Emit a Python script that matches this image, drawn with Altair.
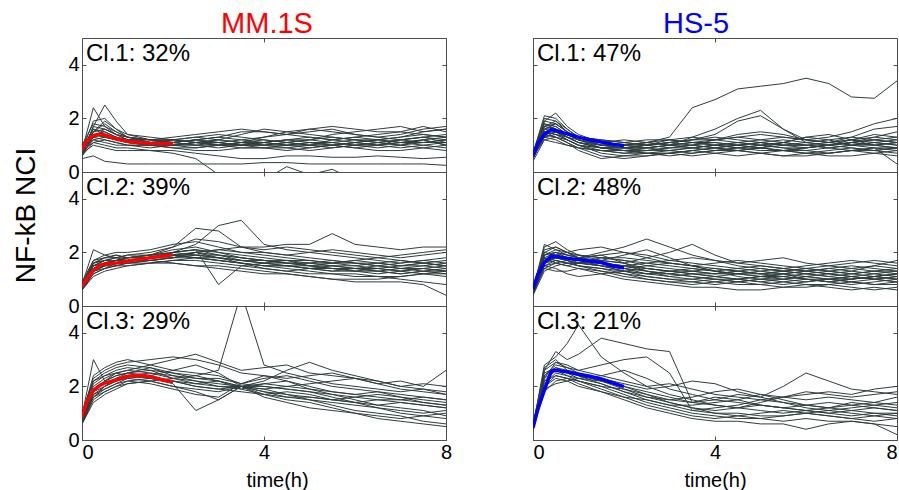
import altair as alt
import pandas as pd

FONT = "Liberation Sans"
FRAME = "#4d4d4d"
TRACE = "#2f3d3d"

# time grid of the single-cell traces (h)
T = [0, 0.25, 0.5, 0.75, 1, 1.5, 2, 2.5, 3, 3.5, 4, 4.5, 5, 5.5, 6, 6.5, 7, 7.5, 8]
# time grid of the cluster mean curves (h)
MEAN_T = [0, 0.1, 0.25, 0.4, 0.5, 0.75, 1, 1.25, 1.5, 1.75, 2]

column_names = ["MM.1S", "HS-5"]
column_colors = ["#ff0000", "#0000ff"]
panel_labels = [["Cl.1: 32%", "Cl.2: 39%", "Cl.3: 29%"],
                ["Cl.1: 47%", "Cl.2: 48%", "Cl.3: 21%"]]

# ---------------- MM.1S cluster 1 ----------------
mm_cl1_traces = [
    [0.8, 2.4, 1.7, 1.4, 1.3, 1.2, 1.1, 1.2, 1.3, 1.2, 1.1, 1.2, 1.3, 1.2, 1.1, 1.2, 1.3, 1.4, 1.3],
    [0.7, 1.7, 2.5, 1.9, 1.4, 1.2, 1.3, 1.4, 1.5, 1.6, 1.5, 1.4, 1.6, 1.7, 1.6, 1.5, 1.5, 1.7, 1.5],
    [0.9, 1.5, 1.9, 1.6, 1.3, 1.1, 1.0, 1.0, 0.9, 1.0, 1.1, 1.0, 0.9, 1.0, 1.1, 1.0, 0.9, 1.0, 1.1],
    [0.6, 1.3, 1.6, 1.4, 1.2, 1.1, 1.2, 1.1, 1.0, 0.9, 0.9, 1.0, 1.1, 1.0, 0.9, 1.0, 1.1, 1.2, 1.0],
    [0.8, 1.4, 1.5, 1.3, 1.2, 1.2, 1.1, 1.0, 1.1, 1.2, 1.3, 1.4, 1.3, 1.2, 1.3, 1.4, 1.5, 1.4, 1.3],
    [1.0, 1.8, 1.7, 1.5, 1.3, 1.2, 1.2, 1.3, 1.4, 1.3, 1.2, 1.1, 1.2, 1.4, 1.5, 1.6, 1.7, 1.5, 1.6],
    [0.7, 1.2, 1.3, 1.2, 1.1, 1.0, 0.9, 0.9, 1.0, 1.1, 1.0, 0.9, 0.8, 0.9, 1.0, 1.1, 1.0, 0.9, 0.8],
    [0.9, 1.6, 1.4, 1.2, 1.1, 1.1, 1.2, 1.3, 1.2, 1.1, 1.3, 1.5, 1.6, 1.5, 1.4, 1.3, 1.2, 1.3, 1.4],
    [0.6, 1.1, 1.2, 1.1, 1.0, 1.0, 0.9, 0.8, 0.8, 0.9, 0.9, 0.8, 0.9, 1.0, 0.9, 0.8, 0.8, 0.9, 1.0],
    [0.8, 1.9, 2.0, 1.6, 1.4, 1.3, 1.2, 1.1, 1.2, 1.4, 1.6, 1.5, 1.4, 1.3, 1.2, 1.2, 1.3, 1.5, 1.6],
    [0.7, 1.0, 0.9, 0.8, 0.8, 0.8, 0.7, 0.5, -0.1, -0.3, -0.3, 0.2, -0.1, 0.1, -0.3, -0.3, -0.3, -0.3, -0.3],
    [0.5, 0.6, 0.4, 0.35, 0.3, 0.3, 0.3, 0.3, 0.3, 0.3, 0.35, 0.35, 0.3, 0.3, 0.3, 0.3, 0.3, 0.3, 0.25],
    [0.8, 1.1, 1.0, 0.9, 0.9, 0.8, 0.8, 0.7, 0.6, 0.5, 0.5, 0.6, 0.6, 0.55, 0.55, 0.6, 0.55, 0.5, 0.55],
    [0.9, 1.3, 1.2, 1.1, 1.0, 1.0, 1.0, 1.1, 1.0, 1.0, 1.1, 1.2, 1.1, 1.0, 1.1, 1.2, 1.1, 1.1, 1.2],
    [0.7, 1.5, 1.8, 1.5, 1.3, 1.2, 1.1, 1.2, 1.3, 1.5, 1.5, 1.4, 1.5, 1.6, 1.4, 1.3, 1.4, 1.6, 1.7],
    [0.9, 1.2, 1.1, 1.0, 1.0, 0.9, 1.0, 1.1, 1.1, 1.0, 0.9, 0.9, 1.0, 1.2, 1.3, 1.2, 1.1, 1.0, 0.9],
    [0.6, 1.4, 1.3, 1.2, 1.2, 1.1, 1.1, 1.0, 1.0, 1.1, 1.2, 1.1, 1.0, 1.0, 1.1, 1.0, 1.2, 1.3, 1.1],
    [0.8, 1.6, 1.5, 1.3, 1.1, 1.0, 1.1, 1.2, 1.1, 1.0, 1.0, 1.1, 1.2, 1.1, 1.0, 0.9, 1.0, 1.2, 1.3],
    [0.7, 1.5, 1.6, 1.4, 1.2, 1.1, 1.0, 1.1, 1.2, 1.1, 1.0, 1.0, 1.1, 1.1, 1.2, 1.1, 1.0, 1.1, 1.2],
    [0.8, 1.3, 1.4, 1.3, 1.2, 1.2, 1.2, 1.1, 1.0, 1.0, 1.1, 1.2, 1.2, 1.3, 1.2, 1.1, 1.2, 1.3, 1.2],
    [0.6, 1.7, 1.6, 1.4, 1.3, 1.1, 1.1, 1.2, 1.1, 1.0, 1.0, 1.1, 1.0, 0.9, 1.0, 1.1, 1.2, 1.1, 1.1],
    [0.9, 1.4, 1.3, 1.2, 1.1, 1.0, 1.0, 0.9, 1.0, 1.1, 1.1, 1.0, 1.0, 1.1, 1.0, 1.0, 1.1, 1.2, 1.0],
]
mm_cl1_mean = [0.83, 1.15, 1.36, 1.42, 1.38, 1.24, 1.15, 1.10, 1.07, 1.06, 1.06]

# ---------------- MM.1S cluster 2 ----------------
mm_cl2_traces = [
    [0.7, 1.6, 1.8, 1.9, 1.8, 1.9, 2.2, 2.9, 2.8, 2.2, 2.0, 1.9, 1.8, 1.7, 1.6, 1.6, 1.5, 1.6, 1.5],
    [0.6, 1.3, 1.5, 1.6, 1.7, 1.8, 2.0, 2.3, 3.0, 3.2, 2.3, 2.1, 2.0, 1.9, 1.8, 1.7, 1.6, 1.7, 1.8],
    [0.8, 2.1, 1.9, 1.8, 1.7, 1.8, 2.0, 2.1, 0.8, 1.5, 1.6, 1.7, 1.5, 1.4, 1.3, 1.2, 1.3, 1.4, 1.3],
    [0.7, 1.4, 1.6, 1.7, 1.8, 1.9, 2.0, 1.9, 1.8, 1.7, 1.6, 1.5, 1.4, 1.3, 1.4, 1.5, 1.4, 1.3, 1.4],
    [0.6, 1.2, 1.4, 1.5, 1.6, 1.7, 1.8, 2.0, 2.1, 2.2, 2.2, 2.3, 2.3, 2.7, 2.3, 2.2, 2.1, 2.2, 2.2],
    [0.8, 1.5, 1.7, 1.6, 1.7, 1.8, 1.9, 1.8, 1.7, 1.6, 1.5, 1.4, 1.3, 1.2, 1.1, 1.1, 1.0, 0.9, 0.8],
    [0.7, 1.3, 1.5, 1.6, 1.6, 1.7, 1.6, 1.5, 1.5, 1.4, 1.3, 1.2, 1.1, 1.0, 0.9, 0.9, 0.9, 0.8, 0.4],
    [0.9, 1.7, 1.9, 2.0, 2.0, 2.1, 2.3, 2.4, 2.2, 2.0, 1.9, 1.8, 1.7, 1.6, 1.7, 1.8, 1.7, 1.6, 1.7],
    [0.6, 1.1, 1.3, 1.4, 1.5, 1.6, 1.7, 1.8, 1.7, 1.6, 1.5, 1.5, 1.4, 1.4, 1.3, 1.3, 1.2, 1.3, 1.2],
    [0.7, 1.5, 1.6, 1.7, 1.8, 1.9, 2.1, 2.2, 2.0, 1.8, 1.7, 1.6, 1.6, 1.5, 1.5, 1.4, 1.5, 1.6, 1.5],
    [0.8, 1.6, 1.8, 1.8, 1.9, 2.0, 2.2, 2.5, 2.4, 2.2, 2.1, 2.2, 2.1, 2.0, 1.9, 1.8, 1.9, 2.0, 2.1],
    [0.6, 1.4, 1.5, 1.5, 1.6, 1.6, 1.7, 1.7, 1.6, 1.5, 1.4, 1.3, 1.2, 1.2, 1.2, 1.1, 1.1, 1.2, 1.1],
    [0.7, 1.6, 1.7, 1.8, 1.8, 1.9, 1.9, 1.8, 1.8, 1.7, 1.7, 1.6, 1.5, 1.5, 1.4, 1.4, 1.3, 1.4, 1.5],
    [0.8, 1.5, 1.6, 1.7, 1.7, 1.8, 2.0, 2.1, 1.9, 1.7, 1.6, 1.6, 1.5, 1.6, 1.6, 1.5, 1.6, 1.7, 1.6],
    [0.6, 1.3, 1.4, 1.6, 1.7, 1.8, 1.8, 1.9, 1.9, 1.8, 1.7, 1.7, 1.6, 1.6, 1.7, 1.6, 1.5, 1.5, 1.4],
    [0.7, 1.4, 1.6, 1.6, 1.7, 1.7, 1.8, 2.0, 2.1, 2.0, 2.0, 1.9, 2.0, 2.1, 2.0, 1.9, 1.8, 1.9, 2.0],
    [0.8, 1.7, 1.8, 1.9, 1.8, 1.8, 1.9, 2.0, 1.8, 1.6, 1.4, 1.3, 1.4, 1.5, 1.4, 1.3, 1.2, 1.3, 1.3],
    [0.6, 1.2, 1.4, 1.5, 1.5, 1.6, 1.6, 1.5, 1.4, 1.3, 1.2, 1.2, 1.1, 1.0, 1.0, 1.0, 1.1, 1.2, 1.2],
    [0.7, 1.5, 1.7, 1.7, 1.8, 1.8, 1.9, 1.9, 1.8, 1.7, 1.6, 1.5, 1.5, 1.4, 1.4, 1.3, 1.4, 1.4, 1.3],
    [0.6, 1.4, 1.6, 1.7, 1.7, 1.8, 1.9, 2.0, 1.9, 1.8, 1.7, 1.6, 1.6, 1.7, 1.6, 1.5, 1.4, 1.5, 1.6],
    [0.8, 1.6, 1.7, 1.8, 1.9, 1.9, 2.0, 2.1, 2.0, 1.9, 1.8, 1.7, 1.7, 1.6, 1.5, 1.6, 1.7, 1.6, 1.5],
    [0.7, 1.3, 1.5, 1.6, 1.6, 1.7, 1.8, 1.8, 1.7, 1.6, 1.5, 1.5, 1.4, 1.3, 1.3, 1.4, 1.3, 1.2, 1.3],
]
mm_cl2_mean = [0.73, 1.00, 1.33, 1.53, 1.57, 1.60, 1.67, 1.74, 1.80, 1.86, 1.91]

# ---------------- MM.1S cluster 3 ----------------
mm_cl3_traces = [
    [0.9, 3.0, 2.2, 2.4, 2.5, 2.6, 2.5, 2.4, 2.6, 5.5, 2.8, 2.5, 2.3, 2.1, 2.0, 1.9, 1.8, 1.9, 1.7],
    [0.7, 1.8, 2.2, 2.5, 2.6, 2.8, 3.0, 3.2, 2.9, 2.6, 2.7, 2.8, 2.5, 2.4, 2.3, 2.1, 2.2, 2.0, 2.6],
    [0.8, 1.6, 2.0, 2.2, 2.4, 2.5, 2.3, 2.1, 2.0, 2.0, 2.1, 2.2, 2.0, 1.8, 1.7, 1.6, 1.5, 1.4, 1.3],
    [0.6, 1.5, 1.8, 2.0, 2.2, 2.3, 2.2, 2.0, 1.9, 2.0, 1.8, 1.6, 1.5, 1.4, 1.3, 1.2, 1.1, 1.0, 1.1],
    [1.0, 2.2, 2.5, 2.7, 2.8, 2.7, 2.5, 2.3, 2.2, 2.0, 2.2, 2.6, 2.9, 2.6, 2.4, 2.2, 2.0, 2.1, 2.0],
    [0.7, 1.9, 2.1, 2.3, 2.4, 2.3, 2.1, 1.1, 1.5, 2.0, 1.9, 1.7, 1.6, 1.5, 1.6, 1.7, 1.6, 1.5, 1.4],
    [0.8, 2.0, 2.3, 2.5, 2.6, 2.5, 2.4, 2.3, 2.3, 2.1, 2.0, 1.9, 1.8, 1.6, 1.4, 1.2, 1.0, 0.9, 0.8],
    [0.6, 1.7, 1.9, 2.1, 2.3, 2.4, 2.6, 2.8, 2.5, 2.0, 1.7, 1.5, 1.4, 1.2, 1.0, 0.8, 0.7, 0.6, 0.5],
    [0.9, 2.4, 2.7, 2.9, 3.0, 2.8, 2.6, 2.5, 2.4, 2.1, 2.3, 2.4, 2.2, 2.0, 1.9, 1.8, 1.7, 1.6, 1.5],
    [0.7, 1.6, 1.8, 2.0, 2.1, 2.2, 2.0, 1.8, 1.5, 2.0, 1.6, 1.4, 1.2, 1.1, 1.0, 0.9, 0.8, 0.9, 1.0],
    [0.8, 2.1, 2.4, 2.6, 2.7, 2.6, 2.3, 2.2, 2.1, 2.0, 1.9, 2.0, 2.1, 2.2, 2.3, 2.1, 1.9, 1.8, 1.7],
    [0.6, 1.4, 1.7, 1.9, 2.1, 2.2, 2.3, 2.4, 2.2, 1.9, 1.7, 1.8, 1.7, 1.5, 1.4, 1.5, 1.4, 1.3, 1.2],
    [1.0, 2.3, 2.6, 2.8, 2.9, 3.0, 3.1, 3.0, 2.8, 2.5, 2.4, 2.3, 2.4, 2.5, 2.3, 2.2, 2.0, 1.9, 1.8],
    [0.7, 1.8, 2.0, 2.2, 2.3, 2.2, 2.0, 1.9, 1.8, 2.0, 1.8, 1.7, 1.5, 1.3, 1.1, 1.0, 0.9, 0.7, 0.6],
    [0.8, 1.9, 2.2, 2.4, 2.5, 2.4, 2.2, 2.1, 2.2, 2.0, 2.0, 1.9, 1.8, 1.7, 1.6, 1.5, 1.5, 1.6, 1.5],
    [0.6, 1.6, 1.9, 2.1, 2.2, 2.1, 1.9, 1.7, 1.6, 2.1, 2.4, 2.2, 1.9, 1.7, 1.5, 1.3, 1.2, 1.1, 0.9],
    [0.9, 2.2, 2.4, 2.5, 2.4, 2.3, 2.2, 2.0, 1.9, 1.8, 1.7, 1.6, 1.6, 1.5, 1.4, 1.3, 1.4, 1.3, 1.2],
    [0.7, 1.7, 2.0, 2.3, 2.5, 2.7, 2.4, 2.2, 2.0, 1.9, 2.1, 2.0, 1.9, 1.8, 1.7, 1.8, 1.6, 1.4, 1.3],
]
mm_cl3_mean = [0.85, 1.40, 1.85, 2.05, 2.12, 2.24, 2.38, 2.42, 2.37, 2.25, 2.17]

# ---------------- HS-5 cluster 1 ----------------
hs_cl1_traces = [
    [0.6, 1.9, 2.2, 1.7, 1.4, 1.1, 1.0, 1.1, 1.3, 2.4, 2.7, 3.1, 3.2, 3.3, 3.5, 3.3, 2.8, 2.75, 3.4],
    [0.5, 1.6, 1.8, 1.5, 1.3, 1.1, 1.0, 0.9, 1.0, 1.3, 1.6, 2.0, 2.3, 1.6, 1.1, 1.0, 1.1, 1.2, 1.1],
    [0.7, 1.8, 1.7, 1.4, 1.2, 1.0, 0.9, 1.0, 1.1, 1.2, 1.4, 1.9, 2.1, 1.6, 1.2, 1.3, 1.5, 1.8, 2.0],
    [0.6, 1.5, 1.6, 1.3, 1.1, 0.9, 0.8, 0.8, 0.9, 0.9, 0.8, 0.9, 1.0, 0.9, 0.8, 0.9, 1.0, 0.9, 0.8],
    [0.5, 1.4, 1.5, 1.2, 1.0, 0.8, 0.7, 0.7, 0.8, 0.9, 1.0, 0.9, 0.8, 0.8, 0.9, 1.0, 1.1, 1.0, 0.9],
    [0.6, 1.7, 1.9, 1.6, 1.3, 1.0, 1.1, 1.2, 1.2, 1.1, 1.0, 1.1, 1.2, 1.3, 1.2, 1.1, 1.2, 1.4, 1.3],
    [0.4, 1.2, 1.3, 1.1, 0.9, 0.6, 0.5, 0.6, 0.7, 0.8, 0.7, 0.6, 0.7, 0.8, 0.7, 0.6, 0.6, 0.7, 0.8],
    [0.7, 2.1, 2.0, 1.6, 1.3, 1.2, 1.1, 1.0, 0.9, 1.0, 1.2, 1.3, 1.2, 1.1, 1.0, 1.0, 1.1, 1.3, 1.5],
    [0.6, 1.3, 1.4, 1.2, 1.0, 0.9, 0.9, 0.9, 0.8, 0.7, 0.8, 0.9, 0.9, 1.0, 1.0, 0.9, 0.8, 0.8, 0.9],
    [0.5, 1.5, 1.6, 1.4, 1.2, 0.9, 0.8, 0.9, 1.0, 1.0, 0.9, 0.8, 0.9, 1.1, 1.3, 1.2, 1.0, 1.1, 1.2],
    [0.6, 1.6, 1.5, 1.3, 1.1, 1.0, 1.0, 1.1, 1.0, 0.9, 1.0, 1.1, 1.0, 0.9, 0.9, 1.0, 1.2, 1.1, 1.0],
    [0.7, 1.4, 1.3, 1.1, 0.8, 0.5, 0.6, 0.7, 0.7, 0.6, 0.7, 0.8, 0.7, 0.6, 0.7, 0.8, 0.9, 0.8, 0.7],
    [0.5, 1.8, 1.6, 1.3, 1.2, 1.1, 1.2, 1.1, 1.0, 1.1, 1.1, 1.0, 1.1, 1.2, 1.1, 1.0, 1.1, 1.2, 1.1],
    [0.6, 1.2, 1.1, 1.0, 0.9, 0.8, 0.7, 0.8, 0.9, 1.0, 1.1, 1.0, 0.9, 0.8, 0.8, 0.7, 0.8, 0.9, 0.3],
    [0.5, 1.7, 1.6, 1.4, 1.3, 1.2, 1.1, 1.0, 1.1, 1.2, 1.3, 1.2, 1.1, 1.0, 1.1, 1.2, 1.3, 1.2, 1.3],
    [0.6, 1.3, 1.2, 1.0, 0.9, 0.8, 0.8, 0.7, 0.6, 0.7, 0.8, 0.8, 0.9, 0.8, 0.7, 0.7, 0.8, 0.9, 0.9],
    [0.7, 1.9, 1.8, 1.5, 1.2, 1.0, 0.9, 1.0, 1.1, 1.2, 1.2, 1.3, 1.4, 1.3, 1.2, 1.1, 1.3, 1.6, 1.7],
    [0.5, 1.5, 1.4, 1.3, 1.1, 0.9, 0.9, 0.8, 0.8, 0.9, 1.0, 1.0, 1.1, 1.0, 1.0, 1.1, 1.0, 1.0, 1.1],
    [0.6, 1.6, 1.7, 1.4, 1.2, 1.0, 0.9, 0.9, 1.0, 1.1, 1.0, 0.9, 1.0, 1.1, 1.0, 0.9, 1.0, 1.1, 1.0],
    [0.5, 1.3, 1.5, 1.3, 1.1, 0.9, 0.8, 0.7, 0.7, 0.8, 0.9, 1.0, 0.9, 0.8, 0.9, 1.0, 0.9, 0.8, 0.9],
    [0.7, 2.0, 1.9, 1.5, 1.3, 1.1, 1.0, 1.1, 1.2, 1.1, 1.2, 1.4, 1.5, 1.4, 1.2, 1.1, 1.2, 1.3, 1.2],
    [0.6, 1.4, 1.3, 1.2, 1.0, 0.7, 0.6, 0.6, 0.7, 0.8, 0.9, 0.8, 0.7, 0.6, 0.6, 0.7, 0.8, 0.7, 0.6],
    [0.5, 1.7, 1.8, 1.5, 1.2, 1.0, 1.0, 1.0, 1.1, 1.0, 0.9, 1.0, 1.1, 1.0, 0.9, 1.0, 1.1, 1.0, 1.1],
    [0.6, 1.5, 1.4, 1.2, 1.0, 0.9, 0.9, 1.0, 1.2, 1.3, 1.2, 1.1, 1.0, 1.1, 1.3, 1.4, 1.2, 1.0, 0.9],
]
hs_cl1_mean = [0.60, 1.05, 1.40, 1.58, 1.55, 1.42, 1.30, 1.20, 1.12, 1.04, 0.98]

# ---------------- HS-5 cluster 2 ----------------
hs_cl2_traces = [
    [0.6, 2.2, 2.4, 2.1, 1.9, 1.8, 1.7, 1.6, 1.5, 1.4, 1.3, 1.2, 1.2, 1.3, 1.2, 1.1, 1.2, 1.3, 1.2],
    [0.5, 1.8, 2.0, 1.9, 1.8, 2.0, 2.2, 2.5, 2.2, 1.9, 1.7, 1.6, 1.5, 1.4, 1.3, 1.4, 1.5, 1.4, 1.3],
    [0.7, 1.6, 1.8, 1.7, 1.6, 1.5, 1.4, 1.3, 1.2, 1.1, 1.0, 1.0, 0.9, 1.0, 1.1, 1.0, 0.9, 1.0, 1.1],
    [0.6, 1.5, 1.4, 1.2, 1.1, 1.2, 1.3, 1.4, 1.3, 1.2, 1.1, 1.0, 1.1, 1.2, 1.1, 1.0, 1.0, 1.1, 1.0],
    [0.4, 1.9, 2.1, 2.0, 1.9, 1.7, 1.6, 1.8, 2.0, 2.3, 1.9, 1.6, 1.7, 1.8, 1.6, 1.5, 1.6, 1.7, 1.6],
    [0.7, 2.0, 1.9, 1.8, 1.7, 1.6, 1.5, 1.4, 1.3, 1.3, 1.2, 1.2, 1.1, 1.1, 1.0, 1.0, 1.1, 1.2, 1.1],
    [0.5, 1.4, 1.6, 1.7, 1.8, 1.9, 1.6, 1.3, 1.1, 1.0, 0.9, 0.8, 0.8, 0.7, 0.7, 0.8, 0.7, 0.6, 0.7],
    [0.6, 2.3, 2.1, 1.9, 1.8, 1.9, 2.0, 1.9, 1.7, 1.6, 1.5, 1.4, 1.3, 1.4, 1.5, 1.6, 1.7, 1.6, 1.5],
    [0.8, 1.7, 1.8, 1.7, 1.5, 1.3, 1.1, 1.0, 0.9, 0.9, 0.8, 0.9, 1.0, 0.9, 0.8, 0.8, 0.9, 0.8, 0.9],
    [0.5, 1.6, 1.9, 2.0, 2.1, 2.2, 2.0, 1.8, 1.6, 1.5, 1.6, 1.7, 1.6, 1.5, 1.4, 1.3, 1.4, 1.5, 1.4],
    [0.6, 1.8, 1.7, 1.6, 1.5, 1.4, 1.3, 1.2, 1.2, 1.3, 1.4, 1.3, 1.2, 1.1, 1.2, 1.3, 1.2, 1.1, 1.2],
    [0.7, 1.5, 1.6, 1.5, 1.4, 1.2, 1.0, 0.9, 0.8, 0.7, 0.7, 0.6, 0.6, 0.7, 0.8, 0.7, 0.6, 0.7, 0.6],
    [0.5, 2.0, 2.2, 2.0, 1.8, 1.6, 1.5, 1.6, 1.7, 1.8, 1.7, 1.5, 1.4, 1.3, 1.4, 1.5, 1.4, 1.3, 1.4],
    [0.6, 1.7, 1.8, 1.8, 1.7, 1.6, 1.4, 1.2, 1.1, 1.2, 1.1, 1.0, 1.1, 1.2, 1.3, 1.2, 1.1, 1.0, 0.9],
    [0.4, 1.3, 1.5, 1.6, 1.6, 1.5, 1.3, 1.1, 1.0, 1.0, 1.1, 1.2, 1.3, 1.2, 1.0, 0.9, 1.0, 1.1, 1.2],
    [0.7, 1.9, 2.0, 1.9, 1.9, 1.8, 1.8, 1.7, 1.6, 1.5, 1.4, 1.3, 1.2, 1.2, 1.3, 1.4, 1.3, 1.2, 1.3],
    [0.6, 1.6, 1.7, 1.6, 1.6, 1.7, 1.9, 2.1, 1.8, 1.5, 1.3, 1.4, 1.5, 1.4, 1.3, 1.2, 1.3, 1.5, 1.7],
    [0.5, 1.4, 1.3, 1.3, 1.4, 1.3, 1.2, 1.1, 1.0, 0.9, 1.0, 0.9, 0.8, 0.9, 1.0, 0.9, 0.8, 0.9, 1.0],
    [0.6, 1.9, 2.0, 1.8, 1.6, 1.5, 1.4, 1.5, 1.6, 1.5, 1.3, 1.2, 1.1, 1.0, 1.1, 1.2, 1.1, 1.0, 1.1],
    [0.5, 1.7, 1.9, 1.8, 1.7, 1.5, 1.3, 1.2, 1.3, 1.4, 1.3, 1.1, 1.0, 1.0, 0.9, 1.0, 1.1, 1.0, 0.9],
    [0.7, 2.1, 2.2, 2.0, 1.8, 1.7, 1.6, 1.4, 1.3, 1.2, 1.2, 1.3, 1.4, 1.3, 1.2, 1.1, 1.0, 1.1, 1.2],
    [0.4, 1.5, 1.7, 1.6, 1.5, 1.4, 1.2, 1.0, 0.9, 0.8, 0.9, 1.0, 0.9, 0.8, 0.9, 1.0, 0.9, 0.8, 0.8],
    [0.6, 1.8, 1.6, 1.5, 1.6, 1.8, 1.7, 1.5, 1.4, 1.3, 1.2, 1.3, 1.2, 1.3, 1.4, 1.3, 1.2, 1.3, 1.3],
    [0.5, 1.6, 1.8, 1.7, 1.6, 1.6, 1.5, 1.3, 1.2, 1.1, 1.0, 0.9, 1.0, 1.1, 1.0, 0.9, 1.0, 1.1, 1.0],
]
hs_cl2_mean = [0.63, 1.15, 1.62, 1.86, 1.85, 1.78, 1.73, 1.68, 1.62, 1.50, 1.42]

# ---------------- HS-5 cluster 3 ----------------
hs_cl3_traces = [
    [0.5, 2.8, 3.1, 3.6, 4.3, 3.1, 2.5, 2.0, 1.7, 1.5, 1.3, 1.2, 1.1, 1.0, 1.1, 1.0, 0.9, 1.0, 0.9],
    [0.4, 2.6, 3.3, 3.0, 3.2, 3.8, 3.6, 3.4, 3.3, 1.4, 1.6, 1.5, 1.3, 1.2, 1.3, 1.4, 1.3, 1.2, 1.1],
    [0.6, 2.4, 2.8, 2.7, 2.6, 2.8, 3.0, 3.1, 2.5, 1.1, 1.2, 1.3, 1.5, 1.4, 1.2, 1.1, 1.2, 1.3, 1.4],
    [0.5, 2.2, 2.6, 2.5, 2.4, 2.2, 2.0, 1.8, 1.6, 1.4, 1.3, 1.2, 1.4, 1.6, 1.8, 1.7, 1.6, 1.7, 1.8],
    [0.4, 2.0, 2.4, 2.3, 2.2, 2.0, 1.7, 1.4, 1.2, 1.0, 0.9, 0.8, 0.8, 0.7, 0.8, 0.7, 0.7, 0.6, 0.5],
    [0.5, 2.5, 2.7, 2.6, 2.5, 2.3, 2.1, 1.9, 2.0, 2.2, 2.1, 1.8, 1.6, 2.0, 2.5, 2.2, 1.9, 1.8, 1.7],
    [0.6, 1.9, 2.1, 2.2, 2.3, 2.1, 1.8, 1.5, 1.3, 1.1, 1.0, 1.0, 0.9, 0.9, 1.0, 1.1, 1.0, 0.9, 0.8],
    [0.4, 2.3, 2.9, 2.7, 2.5, 2.2, 1.9, 1.7, 1.5, 1.4, 1.5, 1.7, 1.6, 1.4, 1.3, 1.2, 1.3, 1.4, 1.3],
    [0.5, 2.1, 2.5, 2.4, 2.2, 1.9, 1.6, 1.3, 1.1, 0.9, 0.8, 0.9, 1.0, 1.1, 1.0, 0.9, 0.8, 0.9, 1.0],
    [0.6, 2.6, 2.9, 2.8, 2.6, 2.4, 2.2, 2.0, 2.1, 1.9, 1.7, 1.6, 1.5, 1.6, 1.7, 1.8, 1.7, 1.9, 2.0],
    [0.4, 1.8, 2.2, 2.3, 2.1, 1.8, 1.5, 1.2, 1.0, 0.8, 0.7, 0.7, 0.6, 0.6, 0.4, 0.6, 0.7, 0.6, 0.2],
    [0.5, 2.4, 2.7, 2.5, 2.3, 2.4, 2.6, 2.3, 1.9, 1.7, 1.5, 1.4, 1.3, 1.2, 1.1, 1.2, 1.4, 1.3, 1.2],
    [0.6, 2.2, 2.4, 2.3, 2.2, 2.0, 1.9, 1.6, 1.4, 1.2, 1.1, 1.2, 1.3, 1.2, 1.1, 1.0, 1.1, 1.2, 1.1],
    [0.5, 2.0, 2.3, 2.2, 2.0, 1.8, 1.6, 1.5, 1.3, 1.3, 1.4, 1.5, 1.7, 1.5, 1.3, 1.2, 1.1, 1.0, 1.0],
    [0.4, 2.7, 3.0, 2.6, 2.4, 2.1, 1.8, 1.6, 1.5, 1.6, 1.8, 1.9, 1.7, 1.6, 1.5, 1.6, 1.5, 1.4, 1.6],
    [0.6, 2.3, 2.6, 2.4, 2.3, 2.2, 2.0, 1.7, 1.4, 1.2, 1.0, 0.9, 0.8, 0.9, 1.0, 0.9, 0.8, 0.7, 0.8],
]
hs_cl3_mean = [0.45, 1.12, 1.86, 2.56, 2.60, 2.55, 2.45, 2.38, 2.28, 2.13, 1.99]

all_traces = [[mm_cl1_traces, mm_cl2_traces, mm_cl3_traces],
              [hs_cl1_traces, hs_cl2_traces, hs_cl3_traces]]
all_means = [[mm_cl1_mean, mm_cl2_mean, mm_cl3_mean],
             [hs_cl1_mean, hs_cl2_mean, hs_cl3_mean]]

PW, PH = 364, 134
XS = alt.Scale(domain=[0, 8], nice=False)
YS = alt.Scale(domain=[0, 5], nice=False)


def panel(col, row):
    traces = all_traces[col][row]
    recs = []
    for i, tr in enumerate(traces):
        for t, v in zip(T, tr):
            recs.append({"t": t, "v": v, "id": i})
    df = pd.DataFrame(recs)
    mdf = pd.DataFrame({"t": MEAN_T, "v": all_means[col][row]})
    bottom = row == 2
    left = col == 0

    xb_kw = dict(orient="bottom", values=[0, 4, 8], offset=-4, tickSize=4,
                 domain=False, grid=False, labels=bottom, tickColor=FRAME,
                 labelFontSize=20, labelPadding=2, labelColor="black", labelFont=FONT)
    if bottom:
        xb_kw.update(titleFontSize=20, titleFont=FONT,
                     titleFontWeight="normal", titleColor="black",
                     titleBaseline="alphabetic", titleY=50,
                     titleX=195 if left else 182)
        if left:
            xb_kw["labelAlign"] = {"condition": {"test": "datum.value == 0", "value": "left"},
                                   "value": "center"}
        else:
            xb_kw["labelFlush"] = True
    x_bottom = alt.Axis(**xb_kw)

    yl_kw = dict(orient="left", values=[0, 2, 4], offset=-4, tickSize=4,
                 domain=False, grid=False, labels=left, tickColor=FRAME,
                 labelFontSize=20, labelPadding=3, labelColor="black", labelFont=FONT)
    if left and row == 1:
        yl_kw.update(titleFontSize=28, titleFont=FONT,
                     titleFontWeight="normal", titleColor="black",
                     titleAngle=270, titleBaseline="alphabetic", titleAlign="center",
                     titleX=-52, titleY=43)
    y_left = alt.Axis(**yl_kw)

    x_top = alt.Axis(orient="top", values=[0, 4, 8], offset=-4, tickSize=4,
                     domain=False, grid=False, labels=False, tickColor=FRAME)
    y_right = alt.Axis(orient="right", values=[0, 2, 4], offset=-4, tickSize=4,
                       domain=False, grid=False, labels=False, tickColor=FRAME)

    tr_layer = alt.Chart(df).mark_line(color=TRACE, strokeWidth=1, clip=True).encode(
        x=alt.X("t:Q", scale=XS, axis=x_bottom, title="time(h)" if bottom else None),
        y=alt.Y("v:Q", scale=YS, axis=y_left,
                title="NF-kB NCI" if (left and row == 1) else None),
        detail="id:N",
    )
    mean_layer = alt.Chart(mdf).mark_line(color=column_colors[col], strokeWidth=3.5,
                                          clip=True).encode(
        x=alt.X("t:Q", scale=XS, axis=x_top, title=None),
        y=alt.Y("v:Q", scale=YS, axis=y_right, title=None),
    )
    lab = pd.DataFrame({"label": [panel_labels[col][row]]})
    text_layer = alt.Chart(lab).mark_text(
        align="left", baseline="top", font=FONT, fontSize=24, color="black"
    ).encode(x=alt.value(4), y=alt.value(4), text="label:N")

    layered = alt.layer(tr_layer, mean_layer, text_layer).resolve_axis(
        x="independent", y="independent")
    props = dict(width=PW, height=PH)
    if row == 0:
        props["title"] = alt.TitleParams(
            column_names[col], color=column_colors[col], fontSize=29, font=FONT,
            fontWeight="normal", anchor="middle", frame="group", offset=-24,
            baseline="alphabetic", dx=3 if col == 0 else -19)
    return layered.properties(**props)


panels = [panel(c, r) for r in range(3) for c in range(2)]

chart = alt.concat(*panels, columns=2, spacing={"row": 0, "column": 87},
                   bounds="flush").properties(
    padding={"left": 11, "top": 9, "right": 0, "bottom": 0},
    background="white",
).configure_view(stroke=FRAME, strokeWidth=1)

chart.save("out.html", embed_options={"renderer": "svg", "actions": False})
